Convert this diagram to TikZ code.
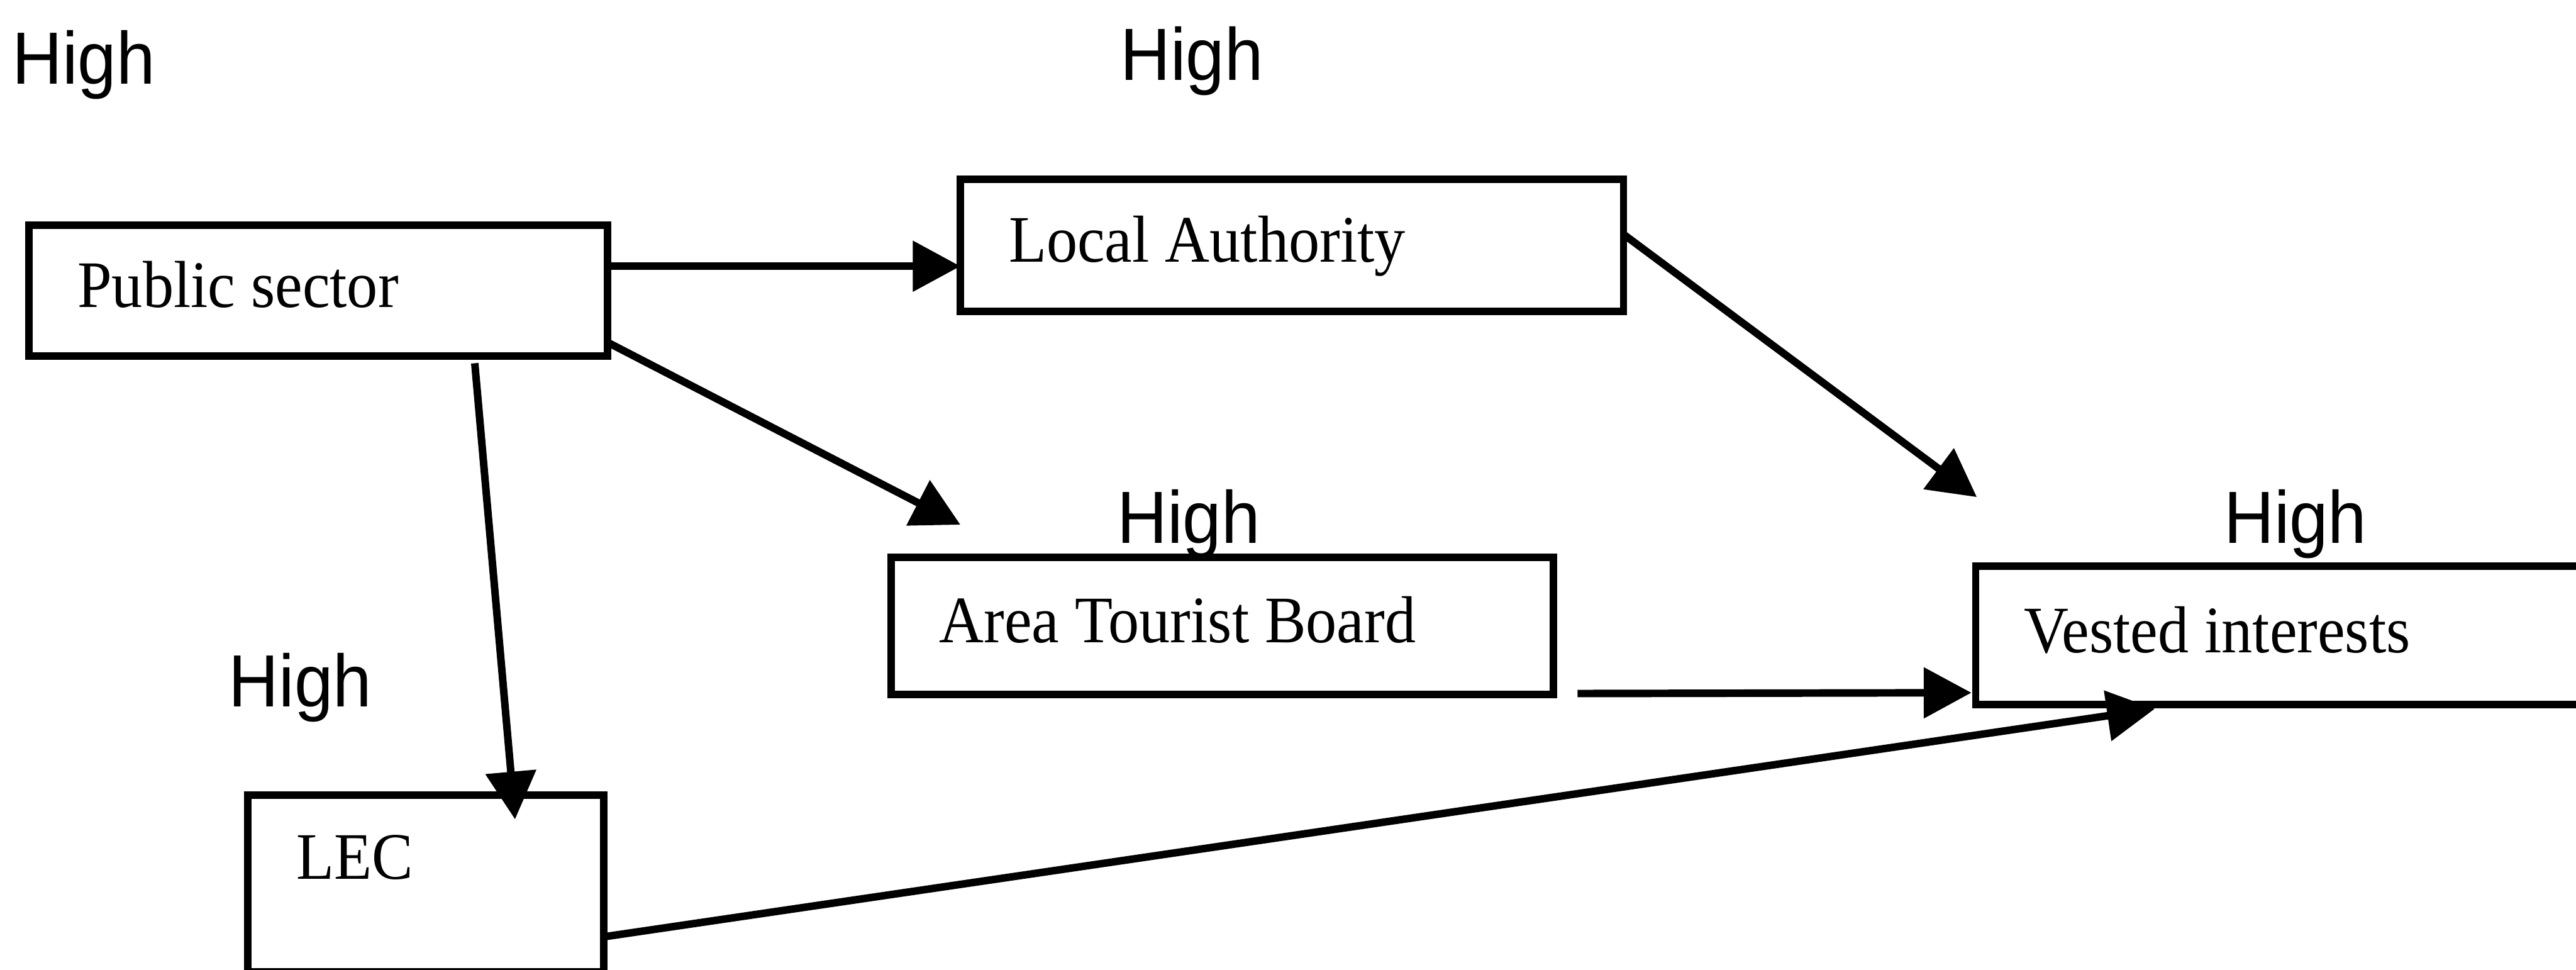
\documentclass[tikz,border=0pt]{standalone}
\usepackage{fontspec}
\setmainfont{Liberation Serif}[FakeStretch=0.93]
\setsansfont{Liberation Sans}[FakeStretch=0.94]
\usetikzlibrary{arrows.meta,calc}
\newcommand\tightsp{\spaceskip=2.7pt\relax}
\begin{document}
\begin{tikzpicture}[x=0.01cm,y=-0.01cm,
  box/.style={draw, line width=1.3pt, rectangle, anchor=north west, outer sep=0pt,
    inner xsep=0.295cm, inner ysep=0pt, align=left,
    font=\fontsize{11.5}{13}\selectfont, execute at begin node=\tightsp,
    text height=0.265cm, text depth=0.06cm},
  hi/.style={anchor=base west, inner sep=0pt, outer sep=0pt,
    font=\sffamily\fontsize{12.8}{14}\selectfont},
  arr/.style={line width=1.3pt, -{Triangle[length=0.29cm,width=0.30cm]}}]
\useasboundingbox (0,0) rectangle (1568,590);
\clip (0,0) rectangle (1568,590);

% boxes
\node[box, text width=2.928cm, minimum height=0.795cm] (ps) at (17.7,137) {Public sector};
\node[box, text width=3.444cm, minimum height=0.804cm] (la) at (584.6,109) {Local Authority};
\node[box, text width=3.44cm, minimum height=0.836cm] (atb) at (542.3,339) {Area Tourist Board};
\node[box, text width=3.61cm, minimum height=0.841cm] (vi) at (1202.6,344.7) {Vested interests};
\node[box, text width=1.575cm, minimum height=1.075cm, text depth=0.32cm] (lec) at (151,484) {LEC};

% labels
\node[hi] (h1) at (7.4,51) {High};
\node[hi] (h2) at (682,48.9) {High};
\node[hi] (h3) at (680.1,330.5) {High};
\node[hi] (h4) at (1353.7,330.6) {High};
\node[hi] (h5) at (139.3,429.9) {High};

% connectors
\draw[arr] ($(ps.north east)+(0,25)$) -- ($(la.north west)+(0,53)$);
\draw[arr] ($(ps.south east)+(1.5,-7.5)$) -- ($(atb.north west)+(42.3,-19.7)$);
\draw[arr] ($(ps.south west)+(271.3,4.5)$) -- ($(lec.north west)+(162.5,14.6)$);
\draw[arr] ($(la.north east)+(0,33.6)$) -- ($(vi.north west)+(0.7,-42.2)$);
\draw[arr] ($(atb.south east)+(14.7,-0.6)$) -- ($(vi.south west)+(-2.6,-7.3)$);
\draw[arr] ($(lec.north east)+(0.5,86)$) -- ($(vi.south west)+(109,2.5)$);
\end{tikzpicture}
\end{document}
